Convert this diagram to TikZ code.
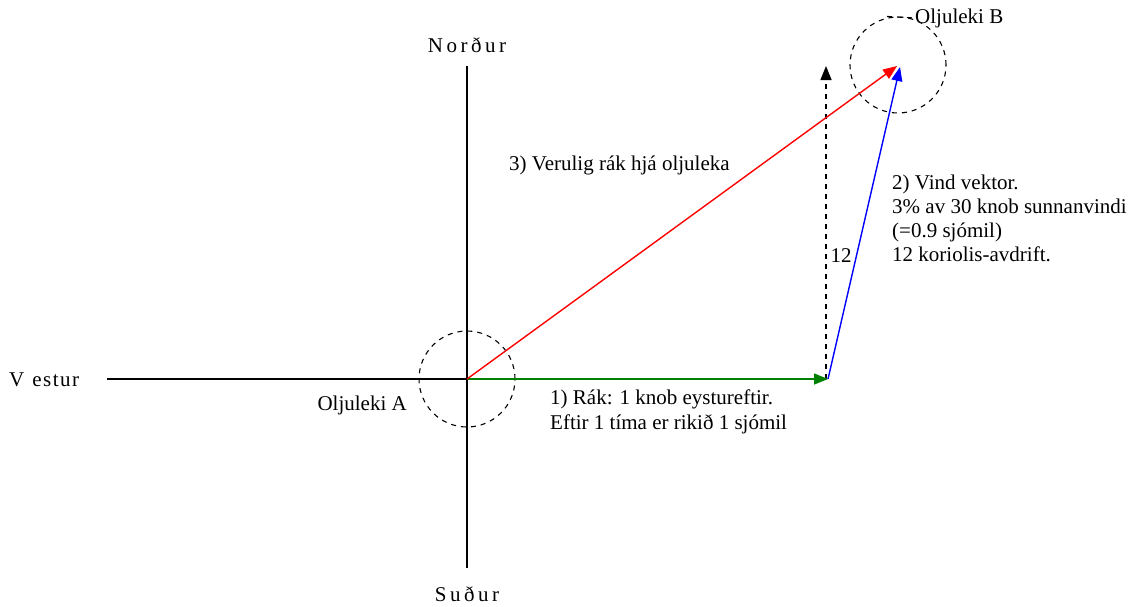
\documentclass[tikz,border=0pt]{standalone}
\usepackage{fontspec}
\setmainfont{Liberation Serif}
\usetikzlibrary{arrows.meta, positioning, calc}

\begin{document}
\begin{tikzpicture}[
	x=1pt, y=-1pt,
	every node/.style={font=\fontsize{21}{24}\selectfont, inner sep=0pt},
	axis/.style={line width=1.3pt},
	vec/.style={line width=1.4pt, -{Triangle[length=14pt,width=11pt]}},
	ring/.style={circle, draw, line width=1.1pt, dash pattern=on 5pt off 5pt, minimum size=96pt},
	]
	\useasboundingbox (0,0) rectangle (1139,606);
	\coordinate (A) at (467,379);
	\coordinate (E) at (828,379);
	\coordinate (B) at (897,66);
	\coordinate (Bb) at (900,67);
	\coordinate (Eup) at (826,379);
	\coordinate (Etop) at (826,66);
	\coordinate (W) at (107,379);
	\coordinate (Ntop) at (467,66);
	\coordinate (Sbot) at (467,568);
	\node[ring] (ringA) at (A) {};
	\node[ring] (ringB) at (898,65) {};
	\node (nord) at (467,45) {N\,o\,r\,ð\,u\,r};
	\node (sud) at (467,594) {S\,u\,ð\,u\,r};
	\node[anchor=west] (vest) at (9,380) {V\kern8pt e\kern1.5pt s\kern1.5pt t\kern1.5pt u\kern1.5pt r};
	\node[anchor=east] (oljA) at (407,405) {Oljuleki A};
	\node[anchor=west] (oljB) at (915,18) {Oljuleki B};
	\node[anchor=west] (rak) at (550,399) {1) Rák: 1 knob eystureftir.};
	\node[anchor=west] (tima) at (550,424) {Eftir 1 tíma er rikið 1 sjómil};
	\node[anchor=west] (veru) at (509,165) {3) Verulig rák hjá oljuleka};
	\node[anchor=north west, align=left] (vind) at (892,175) {2) Vind vektor.\\3\% av 30 knob sunnanvindi\\(=0.9 sjómil)\\12 koriolis-avdrift.};
	\node (tolv) at (841,256) {12};
	\draw[axis] (W) -- (A);
	\draw[axis] (Ntop) -- (Sbot);
	\draw[line width=1.1pt, dash pattern=on 5pt off 5pt] ([xshift=-11pt]ringB.north) -- (oljB.west);
	\draw[vec, black, dash pattern=on 5pt off 5pt] (Eup) -- (Etop);
	\draw[vec, green!50!black] (A) -- (E);
	\draw[vec, blue] (E) -- (Bb);
	\draw[vec, red] (A) -- (B);
\end{tikzpicture}
\end{document}
